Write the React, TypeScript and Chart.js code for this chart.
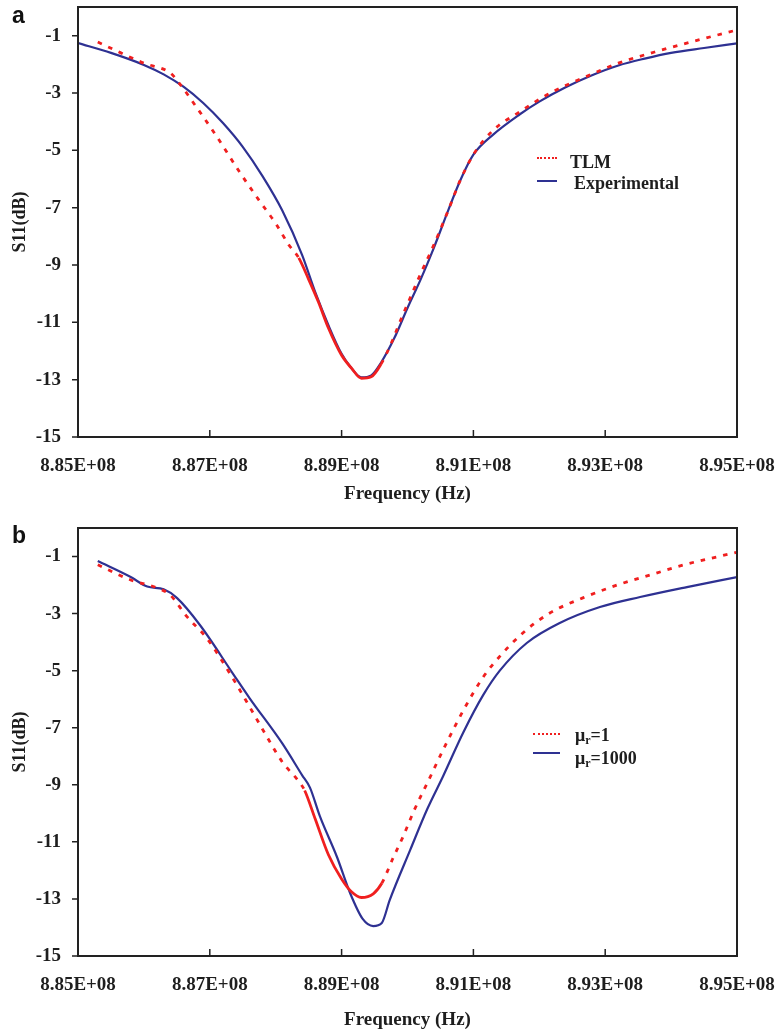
import React, { useEffect, useRef } from "react";
import { Chart, registerables } from "chart.js";
Chart.register(...registerables);

// ---- axes ----
const xTickValues = [885e6, 887e6, 889e6, 891e6, 893e6, 895e6];
const xTickLabels = ["8.85E+08", "8.87E+08", "8.89E+08", "8.91E+08", "8.93E+08", "8.95E+08"];
const yTickValues = [-15, -13, -11, -9, -7, -5, -3, -1];

// ---- panel a : TLM (MHz / dB) ----
const tlmFreqA = [885.3, 885.65, 886.0, 886.4, 886.5, 886.8, 887.1, 887.45, 887.75, 888.0, 888.2, 888.35, 888.5, 888.65, 888.8, 889.0, 889.15, 889.3, 889.45, 889.6, 889.75, 889.9, 890.05, 890.2, 890.4, 890.6, 890.8, 891.0, 891.3, 891.7, 892.2, 892.7, 893.2, 893.75, 894.3, 895.0];
const tlmS11A = [-1.22, -1.6, -1.96, -2.3, -2.55, -3.5, -4.5, -5.75, -6.75, -7.55, -8.3, -8.75, -9.5, -10.3, -11.2, -12.15, -12.6, -12.95, -12.9, -12.45, -11.75, -10.9, -10.1, -9.3, -8.3, -7.2, -6.05, -5.15, -4.3, -3.66, -2.96, -2.44, -1.96, -1.57, -1.22, -0.8];

// ---- panel a : Experimental ----
const expFreqA = [885.0, 885.5, 886.0, 886.3, 886.6, 886.9, 887.2, 887.5, 887.8, 888.1, 888.4, 888.6, 888.8, 889.0, 889.15, 889.3, 889.45, 889.6, 889.8, 890.0, 890.2, 890.4, 890.6, 890.8, 891.0, 891.3, 891.7, 892.0, 892.4, 892.8, 893.2, 893.6, 894.0, 894.5, 895.0];
const expS11A = [-1.26, -1.6, -2.02, -2.35, -2.78, -3.35, -4.05, -4.88, -5.9, -7.1, -8.65, -9.95, -11.1, -12.1, -12.6, -12.92, -12.85, -12.4, -11.55, -10.5, -9.5, -8.4, -7.2, -6.05, -5.15, -4.45, -3.75, -3.3, -2.8, -2.38, -2.04, -1.8, -1.6, -1.43, -1.27];

// ---- panel b : mu_r = 1 ----
const mu1FreqB = [885.3, 885.8, 886.2, 886.4, 886.65, 886.95, 887.3, 887.6, 887.9, 888.1, 888.37, 888.44, 888.6, 888.8, 889.0, 889.15, 889.3, 889.48, 889.61, 889.78, 889.93, 890.1, 890.3, 890.54, 890.85, 891.15, 891.4, 891.75, 892.16, 892.66, 893.18, 893.68, 894.18, 895.0];
const mu1S11B = [-1.29, -1.82, -2.1, -2.35, -3.1, -3.85, -5.08, -6.25, -7.45, -8.2, -8.94, -9.2, -10.2, -11.45, -12.3, -12.75, -12.95, -12.82, -12.45, -11.57, -10.83, -9.9, -8.94, -7.78, -6.38, -5.22, -4.5, -3.68, -2.98, -2.45, -2.0, -1.65, -1.3, -0.85];

// ---- panel b : mu_r = 1000 ----
const mu1000FreqB = [885.3, 885.8, 886.05, 886.3, 886.5, 886.85, 887.35, 887.6, 888.1, 888.4, 888.52, 888.67, 888.93, 889.13, 889.32, 889.48, 889.61, 889.73, 890.04, 890.3, 890.54, 890.85, 891.15, 891.4, 891.81, 892.31, 892.92, 893.53, 894.24, 895.0];
const mu1000S11B = [-1.16, -1.72, -2.05, -2.15, -2.45, -3.4, -5.1, -5.95, -7.55, -8.66, -9.1, -10.1, -11.53, -12.8, -13.7, -13.95, -13.84, -13.04, -11.29, -9.85, -8.7, -7.15, -5.85, -5.0, -4.03, -3.33, -2.77, -2.42, -2.07, -1.72];

const RED = "#f01f1f";
const BLUE = "#2e3192";
const TEXT = "#1e1e1e";
const SERIF = "'Liberation Serif', 'Times New Roman', serif";
const DOTS = [4.5, 7];

const pts = (f: number[], v: number[]) => f.map((x, i) => ({ x: x * 1e6, y: v[i] }));

const framePlugin = {
  id: "frame",
  afterDraw(chart: any) {
    const { ctx, chartArea: a, scales } = chart;
    ctx.save();
    ctx.strokeStyle = "#222";
    ctx.lineWidth = 2;
    ctx.strokeRect(a.left, a.top, a.right - a.left, a.bottom - a.top);
    ctx.lineWidth = 1.5;
    ctx.beginPath();
    scales.y.ticks.forEach((t: any) => {
      const y = scales.y.getPixelForValue(t.value);
      ctx.moveTo(a.left - 6, y);
      ctx.lineTo(a.left, y);
    });
    scales.x.ticks.forEach((t: any) => {
      const x = scales.x.getPixelForValue(t.value);
      ctx.moveTo(x, a.bottom);
      ctx.lineTo(x, a.bottom - 7);
    });
    ctx.stroke();
    ctx.restore();
  },
};

function redDataset(f: number[], v: number[], solidFrom: number, solidTo: number) {
  return {
    data: pts(f, v),
    borderColor: RED,
    borderWidth: 2.8,
    borderDash: DOTS,
    pointRadius: 0,
    cubicInterpolationMode: "monotone",
    segment: {
      borderDash: (ctx: any) =>
        ctx.p0.parsed.x >= solidFrom * 1e6 && ctx.p1.parsed.x <= solidTo * 1e6 ? [] : DOTS,
    },
  };
}

function blueDataset(f: number[], v: number[]) {
  return {
    data: pts(f, v),
    borderColor: BLUE,
    borderWidth: 2.2,
    pointRadius: 0,
    cubicInterpolationMode: "monotone",
  };
}

function makeConfig(datasets: any[], padTop: number, xAxisH: number, titlePadBottom: number) {
  const font = { family: SERIF, weight: "bold" as const, size: 19 };
  return {
    type: "line" as const,
    data: { datasets },
    options: {
      animation: false,
      responsive: false,
      devicePixelRatio: 1,
      layout: { padding: { left: 0, right: 41, top: padTop, bottom: 0 } },
      plugins: { legend: { display: false }, tooltip: { enabled: false } },
      scales: {
        x: {
          type: "linear",
          min: 885e6,
          max: 895e6,
          afterBuildTicks: (s: any) => {
            s.ticks = xTickValues.map((v) => ({ value: v }));
          },
          afterFit: (s: any) => {
            s.height = xAxisH;
            s.paddingLeft = 0;
            s.paddingRight = 0;
            s.paddingTop = 0;
            s.paddingBottom = 0;
          },
          grid: { display: false, drawTicks: false },
          border: { display: false },
          ticks: {
            padding: 18,
            maxRotation: 0,
            autoSkip: false,
            color: TEXT,
            font,
            callback: (v: any) => xTickLabels[xTickValues.indexOf(v)] ?? "",
          },
          title: {
            display: true,
            text: "Frequency (Hz)",
            color: TEXT,
            font,
            padding: { top: 0, bottom: titlePadBottom },
          },
        },
        y: {
          type: "linear",
          min: -15,
          max: 0,
          afterBuildTicks: (s: any) => {
            s.ticks = yTickValues.map((v) => ({ value: v }));
          },
          afterFit: (s: any) => {
            s.width = 78;
            s.paddingLeft = 0;
            s.paddingRight = 0;
            s.paddingTop = 0;
            s.paddingBottom = 0;
          },
          grid: { display: false, drawTicks: false },
          border: { display: false },
          ticks: { padding: 17, color: TEXT, font, callback: (v: any) => String(v) },
          title: {
            display: true,
            text: "S11(dB)",
            color: TEXT,
            font: { family: SERIF, weight: "bold" as const, size: 18 },
            padding: { top: 10, bottom: 0 },
          },
        },
      },
    },
    plugins: [framePlugin],
  };
}

const legendText: React.CSSProperties = {
  position: "absolute",
  fontFamily: SERIF,
  fontWeight: "bold",
  fontSize: 18,
  lineHeight: "20px",
  color: TEXT,
  whiteSpace: "nowrap",
};

const panelLabel: React.CSSProperties = {
  position: "absolute",
  left: 12,
  fontFamily: "'Liberation Sans', Arial, sans-serif",
  fontWeight: "bold",
  fontSize: 23,
  lineHeight: "22px",
  color: "#111",
};

export default function App() {
  const refA = useRef<HTMLCanvasElement>(null);
  const refB = useRef<HTMLCanvasElement>(null);

  useEffect(() => {
    const chartA = new Chart(
      refA.current as HTMLCanvasElement,
      makeConfig(
        [redDataset(tlmFreqA, tlmS11A, 888.3, 889.62), blueDataset(expFreqA, expS11A)],
        7,
        68,
        0
      ) as any
    );
    const chartB = new Chart(
      refB.current as HTMLCanvasElement,
      makeConfig(
        [redDataset(mu1FreqB, mu1S11B, 888.42, 889.62), blueDataset(mu1000FreqB, mu1000S11B)],
        23,
        77,
        2
      ) as any
    );
    return () => {
      chartA.destroy();
      chartB.destroy();
    };
  }, []);

  return (
    <div
      style={{
        position: "absolute",
        left: 0,
        top: 0,
        width: 778,
        height: 1033,
        background: "#fff",
        overflow: "hidden",
      }}
    >
      <canvas ref={refA} width={778} height={505} style={{ position: "absolute", left: 0, top: 0 }} />
      <canvas ref={refB} width={778} height={528} style={{ position: "absolute", left: 0, top: 505 }} />

      <div style={{ ...panelLabel, top: 4 }}>a</div>
      <div style={{ ...panelLabel, top: 524 }}>b</div>

      {/* legend a */}
      <div style={{ position: "absolute", left: 537, top: 157, width: 20, borderTop: `2px dotted ${RED}` }} />
      <div style={{ ...legendText, left: 570, top: 152 }}>TLM</div>
      <div style={{ position: "absolute", left: 537, top: 180, width: 20, borderTop: `2px solid ${BLUE}` }} />
      <div style={{ ...legendText, left: 574, top: 173 }}>Experimental</div>

      {/* legend b */}
      <div style={{ position: "absolute", left: 533, top: 733, width: 27, borderTop: `2px dotted ${RED}` }} />
      <div style={{ ...legendText, left: 575, top: 725 }}>
        μ<sub style={{ fontSize: 12, verticalAlign: "-3px", lineHeight: 0 }}>r</sub>=1
      </div>
      <div style={{ position: "absolute", left: 533, top: 752, width: 27, borderTop: `2px solid ${BLUE}` }} />
      <div style={{ ...legendText, left: 575, top: 748 }}>
        μ<sub style={{ fontSize: 12, verticalAlign: "-3px", lineHeight: 0 }}>r</sub>=1000
      </div>
    </div>
  );
}
